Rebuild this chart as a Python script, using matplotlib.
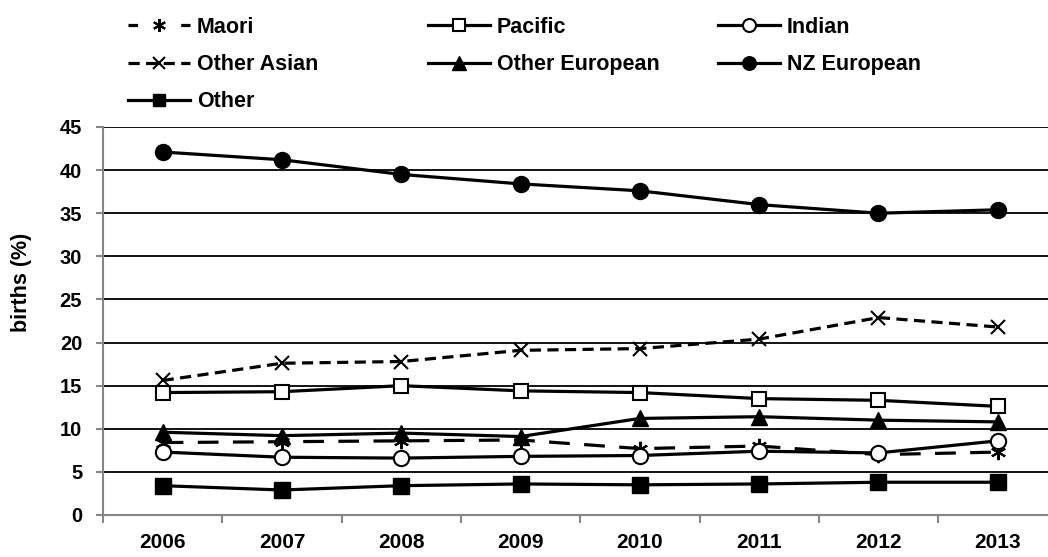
import matplotlib
import matplotlib.pyplot as plt
from matplotlib.lines import Line2D
from matplotlib.ticker import MultipleLocator, FixedLocator

matplotlib.use('Agg')

plt.rcParams['font.family'] = ['Liberation Sans', 'DejaVu Sans']
plt.rcParams['font.weight'] = 'bold'

years = ['2006', '2007', '2008', '2009', '2010', '2011', '2012', '2013']

maori = [8.4, 8.5, 8.6, 8.7, 7.7, 8.0, 7.0, 7.3]
pacific = [14.2, 14.3, 15.0, 14.4, 14.2, 13.5, 13.3, 12.6]
indian = [7.3, 6.7, 6.6, 6.8, 6.9, 7.4, 7.2, 8.6]
other_asian = [15.6, 17.6, 17.8, 19.1, 19.3, 20.4, 22.9, 21.8]
other_european = [9.6, 9.2, 9.5, 9.1, 11.2, 11.4, 11.0, 10.8]
nz_european = [42.1, 41.2, 39.5, 38.4, 37.6, 36.0, 35.0, 35.4]
other = [3.4, 2.9, 3.4, 3.6, 3.5, 3.6, 3.8, 3.8]

GREY = '#868686'
LW = 2.3
ASTERISK = (6, 2, 0)

fig = plt.figure(figsize=(10.48, 5.57), dpi=100)
ax = fig.add_axes([103 / 1048, 42 / 557, 945 / 1048, 388 / 557])

x = range(len(years))
lines = {}
lines['Maori'], = ax.plot(x, maori, color='black', lw=LW, ls=(0, (6.5, 4.5)),
                          marker=ASTERISK, ms=11, mew=1.5, mec='black')
lines['Pacific'], = ax.plot(x, pacific, color='black', lw=LW, marker='s',
                            ms=10.5, mfc='white', mec='black', mew=1.5)
lines['Indian'], = ax.plot(x, indian, color='black', lw=LW, marker='o',
                           ms=11, mfc='white', mec='black', mew=1.5)
lines['Other Asian'], = ax.plot(x, other_asian, color='black', lw=LW, ls=(0, (3.5, 2)),
                                marker='x', ms=10, mew=1.5, mec='black')
lines['Other European'], = ax.plot(x, other_european, color='black', lw=LW, marker='^',
                                   ms=11.5, mfc='black', mec='black')
lines['NZ European'], = ax.plot(x, nz_european, color='black', lw=LW, marker='o',
                                ms=11.5, mfc='black', mec='black')
lines['Other'], = ax.plot(x, other, color='black', lw=LW, marker='s',
                          ms=11, mfc='black', mec='black')

# legend key for Maori: short dash at each end, asterisk in the middle
lines['Maori'] = Line2D([], [], color='black', lw=LW, ls=(0, (3.0, 13.5)),
                        marker=ASTERISK, ms=11, mew=1.5, mec='black')

ax.set_xlim(-0.5, -0.5 + 945 / 119.3)
ax.set_ylim(0, 45)

# horizontal gridlines every 5
ax.yaxis.set_major_locator(MultipleLocator(5))
ax.grid(axis='y', color='black', lw=1.3)
ax.set_axisbelow(True)

ax.set_xticks(list(x))
ax.set_xticklabels(years, fontsize=15, fontweight='bold')
ax.xaxis.set_minor_locator(FixedLocator([i + 0.5 for i in range(-1, 8)]))
ax.tick_params(axis='x', which='major', length=0, pad=13)
ax.tick_params(axis='x', which='minor', length=6, width=1.5, color=GREY)
ax.tick_params(axis='y', length=5, width=1.5, color=GREY, labelsize=14.5, pad=10)
for lbl in ax.get_yticklabels():
    lbl.set_fontweight('bold')

for side in ['top', 'right']:
    ax.spines[side].set_visible(False)
for side in ['left', 'bottom']:
    ax.spines[side].set_color(GREY)
    ax.spines[side].set_linewidth(1.5)

# y-axis title sits a bit above the middle of the axis
fig.text(22 / 1048, 1 - 282 / 557, 'births (%)', rotation=90, ha='center', va='center',
         fontsize=15.5, fontweight='bold')

# legend in three separate columns
columns = [
    (['Maori', 'Other Asian', 'Other'], 128),
    (['Pacific', 'Other European'], 428),
    (['Indian', 'NZ European'], 718),
]
for names, left in columns:
    leg = fig.legend([lines[n] for n in names], names,
                     loc='upper left', bbox_to_anchor=(left / 1048, 1 - 17 / 557),
                     frameon=False, handlelength=2.9, markerscale=0.85,
                     handletextpad=0.3, labelspacing=0.75, borderpad=0,
                     borderaxespad=0, prop={'weight': 'bold', 'size': 15.5})

fig.savefig('out.png', dpi=100)
